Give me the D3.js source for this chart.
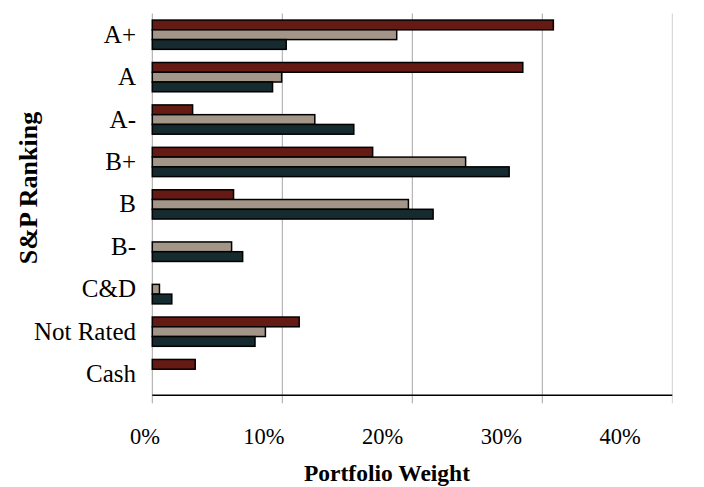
<!DOCTYPE html>
<html>
<head>
<meta charset="utf-8">
<script src="https://cdn.jsdelivr.net/npm/d3@7"></script>
<style>
  html, body { margin: 0; padding: 0; background: #fff; }
  svg { display: block; }
  text { font-family: "Liberation Serif", "Times New Roman", serif; fill: #000; }
</style>
</head>
<body>
<svg id="chart" width="704" height="487"></svg>
<script>
// S&P quality ranking categories, top to bottom
const categories = ["A+", "A", "A-", "B+", "B", "B-", "C&D", "Not Rated", "Cash"];

// Portfolio weights (%) for each of the three portfolios
const seriesRed   = [30.85, 28.5, 3.1, 16.95, 6.25, 0, 0, 11.3, 3.3];
const seriesTaupe = [18.8, 9.95, 12.5, 24.1, 19.7, 6.1, 0.55, 8.7, 0];
const seriesDark  = [10.3, 9.25, 15.5, 27.45, 21.6, 6.95, 1.5, 7.9, 0];

const seriesColors = ["#661a14", "#a39689", "#162b2f"];
const xTicks = [0, 10, 20, 30, 40];
const xTickLabels = ["0%", "10%", "20%", "30%", "40%"];

const series = [seriesRed, seriesTaupe, seriesDark];

const svg = d3.select("#chart");
const plot = { left: 152.3, right: 672.3, top: 13.5, bottom: 395.3 };

const x = d3.scaleLinear().domain([0, 40]).range([plot.left, plot.right]);
const y = d3.scaleBand().domain(categories).range([plot.top, plot.bottom]).paddingInner(0.31).paddingOuter(0.155);
const ySub = d3.scaleBand().domain([0, 1, 2]).range([0, y.bandwidth()]);
// tick labels sit on their own evenly spaced positions beneath the axis
const xLabel = d3.scaleLinear().domain([0, 40]).range([145, 620]);

// vertical gridlines (extend below the axis as tick marks)
svg.append("g").selectAll("line").data(xTicks.slice(1)).join("line")
  .attr("x1", d => x(d)).attr("x2", d => x(d))
  .attr("y1", plot.top).attr("y2", plot.bottom + 8)
  .attr("stroke", (d, i) => i === xTicks.length - 2 ? "#d0d0d0" : "#a6a6a6")
  .attr("stroke-width", 1);

// left axis line
svg.append("line")
  .attr("x1", x(0)).attr("x2", x(0))
  .attr("y1", plot.top).attr("y2", plot.bottom + 8)
  .attr("stroke", "#a6a6a6").attr("stroke-width", 1);

// bars
const groups = svg.append("g").selectAll("g").data(categories).join("g")
  .attr("transform", d => `translate(0,${y(d)})`);

groups.selectAll("rect")
  .data((c, ci) => series.map((s, si) => ({ v: s[ci], si })).filter(d => d.v > 0))
  .join("rect")
  .attr("x", x(0))
  .attr("y", d => ySub(d.si))
  .attr("width", d => x(d.v) - x(0))
  .attr("height", ySub.bandwidth())
  .attr("fill", d => seriesColors[d.si])
  .attr("stroke", "#000")
  .attr("stroke-width", 1.5);

// bottom axis line
svg.append("line")
  .attr("x1", x(0)).attr("x2", x(40))
  .attr("y1", plot.bottom).attr("y2", plot.bottom)
  .attr("stroke", "#000").attr("stroke-width", 1.5);

// category labels
svg.append("g").selectAll("text").data(categories).join("text")
  .attr("x", 136)
  .attr("y", d => y(d) + y.bandwidth() / 2 + 8)
  .attr("text-anchor", "end")
  .style("font-size", "25px")
  .text(d => d);

// x tick labels
svg.append("g").selectAll("text").data(xTicks).join("text")
  .attr("x", d => xLabel(d))
  .attr("y", 444)
  .attr("text-anchor", "middle")
  .style("font-size", "22.5px")
  .text((d, i) => xTickLabels[i]);

// axis titles
svg.append("text")
  .attr("x", 387).attr("y", 481)
  .attr("text-anchor", "middle")
  .style("font-size", "23.5px").style("font-weight", "bold")
  .text("Portfolio Weight");

svg.append("text")
  .attr("transform", "translate(37,188) rotate(-90)")
  .attr("text-anchor", "middle")
  .style("font-size", "26px").style("font-weight", "bold")
  .text("S&P Ranking");
</script>
</body>
</html>
